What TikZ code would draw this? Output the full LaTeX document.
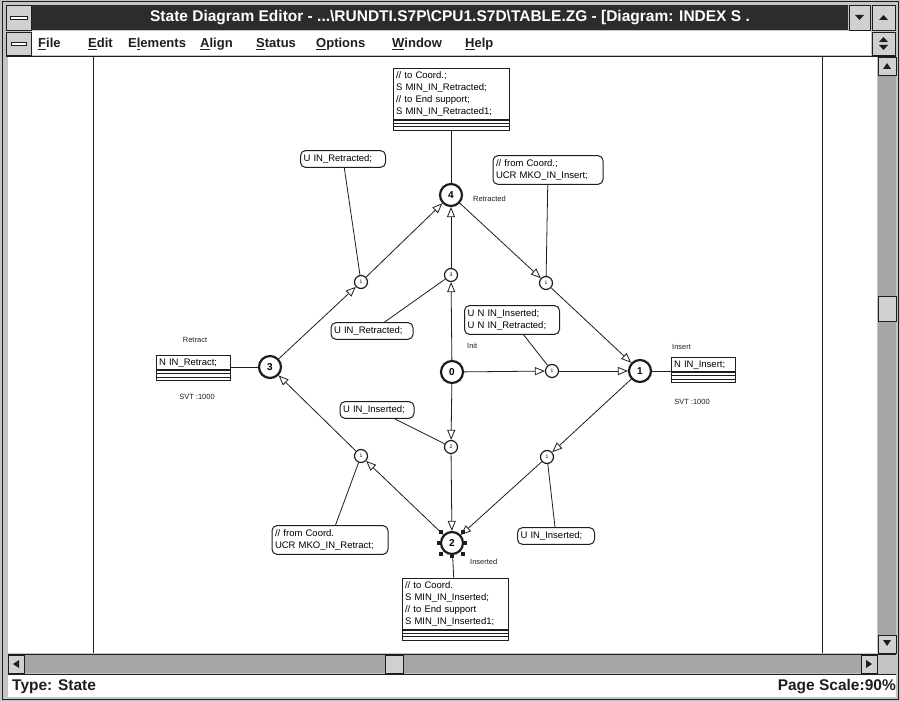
\documentclass[tikz,border=0pt]{standalone}
\usepackage{fontspec}
\setmainfont{Liberation Sans}
\usetikzlibrary{arrows.meta,calc}
\newcommand\dtext{\fontsize{9.5}{12}\selectfont}
\definecolor{ink}{HTML}{1E1E1E}
\definecolor{framegray}{HTML}{C4C4C4}
\definecolor{btngray}{HTML}{D0D0D0}
\definecolor{scrollgray}{HTML}{A6A6A6}
\definecolor{titlebg}{HTML}{2C2C2C}
\begin{document}
\begin{tikzpicture}[x=1pt,y=-1pt,
  ln/.style={line width=0.8pt, draw=ink},
  arr/.style={ln, -{Triangle[open,length=10pt,width=8pt]}},
  state/.style={circle, draw=ink, line width=2.2pt, minimum size=22pt, inner sep=0pt, font=\bfseries\fontsize{10}{10}\selectfont, fill=white},
  trans/.style={circle, draw=ink, line width=1.2pt, minimum size=13pt, inner sep=0pt, font=\fontsize{5}{5}\selectfont, fill=white},
  cond/.style={draw=ink, line width=1pt, rounded corners=5pt, inner xsep=3pt, inner ysep=4pt, align=left, text width=#1, font=\dtext, fill=white},
  act/.style={draw=ink, line width=1pt, inner xsep=3pt, inner ysep=3pt, align=left, text width=#1, font=\dtext, fill=white},
  actbar/.style={draw=ink, line width=1pt, minimum width=#1, minimum height=10pt, inner sep=0pt, fill=white},
  lbl/.style={font=\fontsize{7.5}{8}\selectfont, inner sep=0pt, text=ink},
  menu/.style={font=\bfseries\fontsize{13}{13}\selectfont, inner sep=0pt, anchor=west, text=ink},
  btn/.style={draw=ink, line width=0.8pt, fill=btngray},
  handle/.style={fill=ink, minimum size=3.5pt, inner sep=0pt},
]
\useasboundingbox (0,0) rectangle (900,701);
% ---------- window frame ----------
\fill[framegray] (0,0) rectangle (900,701);
\draw[ink, line width=1pt] (2,2) rectangle (898,699);
% title bar
\fill[titlebg] (32,5) rectangle (848,30);
\node[font=\bfseries\fontsize{15.5}{16}\selectfont, text=white, inner sep=0pt] (title) at (450,18)
  {State Diagram Editor - ...\textbackslash RUNDTI.S7P\textbackslash CPU1.S7D\textbackslash TABLE.ZG - [Diagram: INDEX S .};
\draw[btn] (6,5) rectangle (31,30);
\draw[ink, fill=white, line width=0.6pt] (10,16) rectangle (27,19);
\draw[btn] (849,5) rectangle (870,30);
\fill[ink] (855,15) -- (864,15) -- (859.5,20) -- cycle;
\draw[btn] (872,5) rectangle (895,30);
\fill[ink] (879,20) -- (888,20) -- (883.5,15) -- cycle;
% menu bar
\fill[white] (32,31) rectangle (871,55);
\draw[btn] (6,32) rectangle (31,55);
\draw[ink, fill=white, line width=0.6pt] (11,42) rectangle (26,45);
\draw[btn] (872,32) rectangle (895,55);
\fill[ink] (879,42) -- (888,42) -- (883.5,37) -- cycle;
\fill[ink] (879,45) -- (888,45) -- (883.5,50) -- cycle;
\node[menu] (mFile) at (38,44) {\underline{F}ile};
\node[menu] (mEdit) at (88,44) {\underline{E}dit};
\node[menu] (mElem) at (128,44) {E\underline{l}ements};
\node[menu] (mAlign) at (200,44) {\underline{A}lign};
\node[menu] (mStatus) at (256,44) {\underline{S}tatus};
\node[menu] (mOpt) at (316,44) {\underline{O}ptions};
\node[menu] (mWin) at (392,44) {\underline{W}indow};
\node[menu] (mHelp) at (465,44) {\underline{H}elp};
\draw[ink, line width=0.8pt] (6,56) -- (896,56);
% client area
\fill[white] (8,57) rectangle (877,653);
\draw[ink, line width=0.7pt] (93,57) -- (93,653);
\draw[ink, line width=0.7pt] (822,57) -- (822,653);
% vertical scrollbar
\fill[scrollgray] (878,57) rectangle (896,653);
\draw[btn] (878,57) rectangle (896,75);
\fill[ink] (883,69) -- (891,69) -- (887,63) -- cycle;
\draw[btn] (878,296) rectangle (896,321);
\draw[btn] (878,635) rectangle (896,653);
\fill[ink] (883,640) -- (891,640) -- (887,646) -- cycle;
% horizontal scrollbar
\fill[scrollgray] (8,655) rectangle (877,673);
\draw[ink, line width=0.8pt] (8,654.5) -- (896,654.5);
\draw[btn] (8,655) rectangle (24,673);
\fill[ink] (19,660) -- (19,668) -- (13,664) -- cycle;
\draw[btn] (861,655) rectangle (877,673);
\fill[ink] (866,660) -- (866,668) -- (872,664) -- cycle;
\draw[btn] (385,655) rectangle (403,673);
\fill[framegray] (878,655) rectangle (896,673);
% status bar
\fill[white] (8,675) rectangle (896,697);
\draw[ink, line width=0.8pt] (8,674.5) -- (896,674.5);
\node[font=\bfseries\fontsize{15.5}{16}\selectfont, text=ink, anchor=west, inner sep=0pt] (stType) at (12,687) {Type: State};
\node[font=\bfseries\fontsize{15.5}{16}\selectfont, text=ink, anchor=east, inner sep=0pt] (stScale) at (896,687) {Page Scale:90\%};
% ---------- diagram ----------
% states
\node[state] (s4) at (451,195) {4};
\node[state] (s0) at (452,372) {0};
\node[state] (s3) at (270,367) {3};
\node[state] (s1) at (640,371) {1};
\node[state] (s2) at (452,543) {2};
\foreach \dx/\dy in {-11/-11,11/-11,-11/11,11/11,-13/0,13/0,0/13}
  \node[handle] at ($(452,543)+(\dx,\dy)$) {};
% transitions
\node[trans] (t1) at (361,282) {1};
\node[trans] (t2) at (451,275) {3};
\node[trans] (t3) at (546,283) {1};
\node[trans] (t4) at (552,371) {1};
\node[trans] (t5) at (451,447) {2};
\node[trans] (t6) at (547,457) {1};
\node[trans] (t7) at (361,456) {1};
% labels
\node[lbl, anchor=west] (lRetracted) at (473,199) {Retracted};
\node[lbl, anchor=west] (lInit) at (467,346) {Init};
\node[lbl, anchor=west] (lInserted) at (470,562) {Inserted};
\node[lbl] (lRetract) at (195,340) {Retract};
\node[lbl, anchor=west] (lInsert) at (672,347) {Insert};
\node[lbl] (lSvtL) at (197,397) {SVT :1000};
\node[lbl] (lSvtR) at (692,402) {SVT :1000};
% action boxes
\node[act=110pt, anchor=north] (aTop) at (451,68) {// to Coord.;\\S MIN\_IN\_Retracted;\\// to End support;\\S MIN\_IN\_Retracted1;};
\node[actbar=116pt, anchor=north] (aTopBar) at (aTop.south) {};
\node[act=100pt, anchor=north] (aBot) at (455,578) {// to Coord.\\S MIN\_IN\_Inserted;\\// to End support\\S MIN\_IN\_Inserted1;};
\node[actbar=106pt, anchor=north] (aBotBar) at (aBot.south) {};
\node[act=68pt, anchor=north] (aLeft) at (193,355) {N IN\_Retract;};
\node[actbar=74pt, anchor=north] (aLeftBar) at (aLeft.south) {};
\node[act=58pt, anchor=north] (aRight) at (703,357) {N IN\_Insert;};
\node[actbar=64pt, anchor=north] (aRightBar) at (aRight.south) {};
\foreach \b in {aTopBar,aBotBar,aLeftBar,aRightBar}{
  \draw[ink, line width=0.8pt] ([yshift=-3.3pt]\b.north west) -- ([yshift=-3.3pt]\b.north east);
  \draw[ink, line width=0.8pt] ([yshift=-6.6pt]\b.north west) -- ([yshift=-6.6pt]\b.north east);
}
% condition boxes
\node[cond=79pt] (c1) at (343,159) {U IN\_Retracted;};
\node[cond=104pt] (c2) at (548,170) {// from Coord.;\\UCR MKO\_IN\_Insert;};
\node[cond=76pt] (c3) at (372,331) {U IN\_Retracted;};
\node[cond=89pt] (c4) at (512,320) {U N IN\_Inserted;\\U N IN\_Retracted;};
\node[cond=68pt] (c5) at (377,410) {U IN\_Inserted;};
\node[cond=110pt] (c6) at (330,540) {// from Coord.\\UCR MKO\_IN\_Retract;};
\node[cond=71pt] (c7) at (556,536) {U IN\_Inserted;};
% connectors: state -> transition -> state
\draw[arr] (s3) -- (t1);
\draw[arr] (t1) -- (s4);
\draw[arr] (s0) -- (t2);
\draw[arr] (t2) -- (s4);
\draw[arr] (s4) -- (t3);
\draw[arr] (t3) -- (s1);
\draw[arr] (s0) -- (t4);
\draw[arr] (t4) -- (s1);
\draw[arr] (s0) -- (t5);
\draw[arr] (t5) -- (s2);
\draw[arr] (s1) -- (t6);
\draw[arr] (t6) -- (s2);
\draw[arr] (s2) -- (t7);
\draw[arr] (t7) -- (s3);
% condition links
\draw[ln] (c1) -- (t1);
\draw[ln] (c2) -- (t3);
\draw[ln] (c3) -- (t2);
\draw[ln] (c4) -- (t4);
\draw[ln] (c5) -- (t5);
\draw[ln] (c6) -- (t7);
\draw[ln] (c7) -- (t6);
% action links
\draw[ln] (aTopBar) -- (s4);
\draw[ln] (s2) -- (aBot);
\draw[ln] (s3) -- (s3 -| aLeft.east);
\draw[ln] (s1) -- (s1 -| aRight.west);
\end{tikzpicture}
\end{document}
